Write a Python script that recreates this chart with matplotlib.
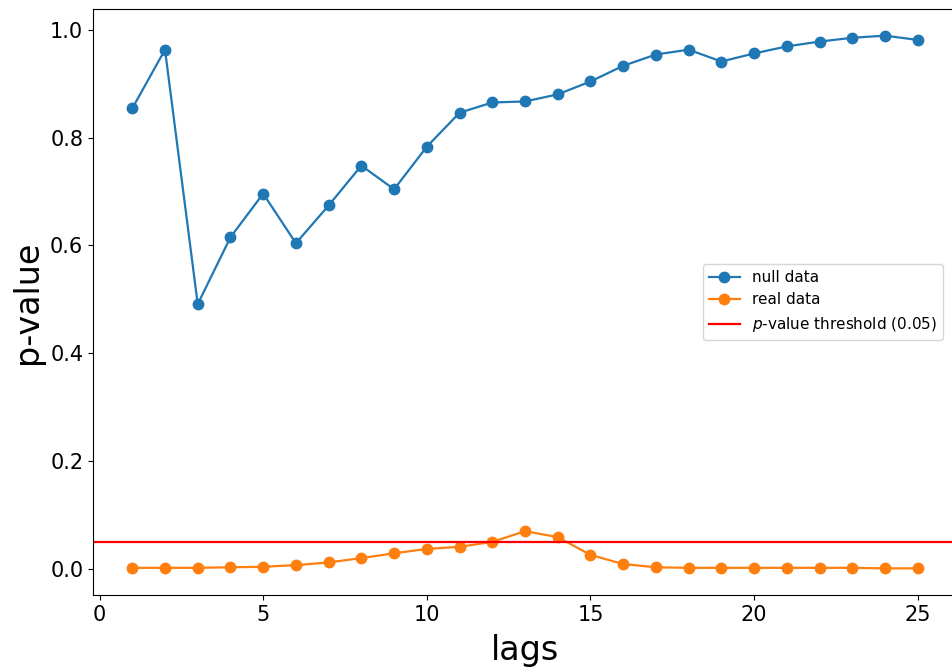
import matplotlib
matplotlib.use("Agg")
import matplotlib.pyplot as plt

lags = list(range(1, 26))
null_p = [0.854, 0.963, 0.491, 0.615, 0.696, 0.604, 0.674, 0.748, 0.704, 0.783,
          0.846, 0.865, 0.867, 0.880, 0.904, 0.933, 0.954, 0.963, 0.941, 0.956,
          0.969, 0.978, 0.985, 0.989, 0.981]
real_p = [0.002, 0.002, 0.002, 0.003, 0.004, 0.007, 0.012, 0.020, 0.029, 0.037,
          0.041, 0.050, 0.070, 0.059, 0.026, 0.009, 0.003, 0.002, 0.002, 0.002,
          0.002, 0.002, 0.002, 0.001, 0.001]
threshold = 0.05

fig = plt.figure(figsize=(9.53, 6.69), dpi=100)
ax = fig.add_axes([93/953, 1-595/669, (957-93)/953, (595-9)/669])
ax.plot(lags, null_p, marker='o', markersize=7.5, linewidth=1.6, label='null data')
ax.plot(lags, real_p, marker='o', markersize=7.5, linewidth=1.6, label='real data')
ax.axhline(threshold, color='red', linewidth=1.6, label='$p$-value threshold (0.05)')
ax.set_xlabel('lags', fontsize=24, labelpad=7)
ax.set_ylabel('p-value', fontsize=24, labelpad=4)
ax.tick_params(labelsize=15)
ax.set_xticks([0, 5, 10, 15, 20, 25])
ax.legend(loc='center right', fontsize=11, bbox_to_anchor=(0.993, 0.5))
fig.savefig('out.png', dpi=100)
